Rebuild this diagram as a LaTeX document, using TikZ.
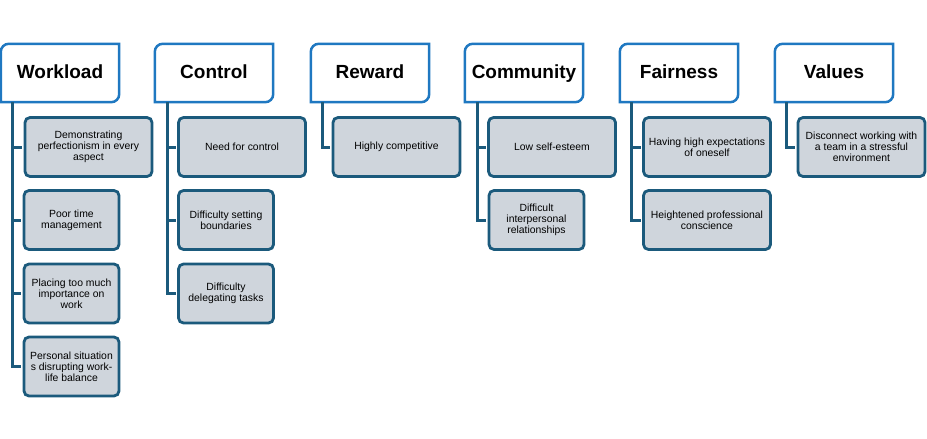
\documentclass[tikz,border=0pt]{standalone}
\usepackage{fontspec}
\setmainfont{Liberation Sans}
\usetikzlibrary{calc}
\definecolor{hdrblue}{HTML}{1F78C1}
\definecolor{childline}{HTML}{1B5A7C}
\definecolor{childfill}{HTML}{CFD5DC}
\tikzset{
  hdr/.style={draw=none, minimum width=118pt, minimum height=58pt, inner sep=0pt,
    text height=14pt, text depth=4pt,
    font=\fontsize{19}{22}\selectfont\bfseries},
  hdrborder/.style={draw=hdrblue, line width=2.5pt},
  childbox/.style={draw=childline, fill=childfill, line width=2.8pt, rounded corners=5pt,
    minimum height=59pt, inner sep=0pt, align=center,
    font=\fontsize{10.4}{10.8}\selectfont},
  wide/.style={minimum width=127pt},
  narrow/.style={minimum width=95pt},
  conn/.style={draw=childline, line width=3pt},
}
\newcommand{\hdrframe}[1]{%
  \draw[hdrborder] (#1.south west) -- ($(#1.north west)+(0,-8pt)$)
    arc[start angle=180, end angle=90, radius=8pt] -- (#1.north east)
    -- ($(#1.south east)+(0,8pt)$)
    arc[start angle=0, end angle=-90, radius=8pt] -- cycle;}
\begin{document}
\begin{tikzpicture}[x=1pt,y=1pt]
\useasboundingbox (0,0) rectangle (927,-439);
% headers
\node[hdr] (hW) at (60,-73) {Workload};
\node[hdr] (hC) at (214,-73) {Control};
\node[hdr] (hR) at (370,-73) {Reward};
\node[hdr] (hCm) at (524,-73) {Community};
\node[hdr] (hF) at (679,-73) {Fairness};
\node[hdr] (hV) at (834,-73) {Values};
\foreach \n in {hW,hC,hR,hCm,hF,hV}{\hdrframe{\n}}
% trunk coordinates
\coordinate (tW) at ($(hW.south west)+(12pt,0)$);
\coordinate (tC) at ($(hC.south west)+(13pt,0)$);
\coordinate (tR) at ($(hR.south west)+(12pt,0)$);
\coordinate (tCm) at ($(hCm.south west)+(13pt,0)$);
\coordinate (tF) at ($(hF.south west)+(12pt,0)$);
\coordinate (tV) at ($(hV.south west)+(12pt,0)$);
% children
\node[childbox,wide] (cW1) at (88.5,-147) {Demonstrating\\perfectionism in every\\aspect};
\node[childbox,narrow] (cW2) at (71.5,-220) {Poor time\\management};
\node[childbox,narrow] (cW3) at (71.5,-293.5) {Placing too much\\importance on\\work};
\node[childbox,narrow] (cW4) at (71.5,-366.5) {Personal situation\\s disrupting work-\\life balance};
\node[childbox,wide] (cC1) at (242,-147) {Need for control};
\node[childbox,narrow] (cC2) at (226,-220) {Difficulty setting\\boundaries};
\node[childbox,narrow] (cC3) at (226,-293.5) {Difficulty\\delegating tasks};
\node[childbox,wide] (cR1) at (396.5,-147) {Highly competitive};
\node[childbox,wide] (cCm1) at (552,-147) {Low self-esteem};
\node[childbox,narrow] (cCm2) at (536.5,-220) {Difficult\\interpersonal\\relationships};
\node[childbox,wide] (cF1) at (707,-147) {Having high expectations\\of oneself};
\node[childbox,wide] (cF2) at (707,-220) {Heightened professional\\conscience};
\node[childbox,wide] (cV1) at (861.5,-147) {Disconnect working with\\a team in a stressful\\environment};
% connectors
\foreach \t/\c in {tW/cW1,tW/cW2,tW/cW3,tW/cW4,tC/cC1,tC/cC2,tC/cC3,tR/cR1,tCm/cCm1,tCm/cCm2,tF/cF1,tF/cF2,tV/cV1}{
  \draw[conn] (\t) |- ([xshift=-1.4pt]\c.west);}
\end{tikzpicture}
\end{document}
